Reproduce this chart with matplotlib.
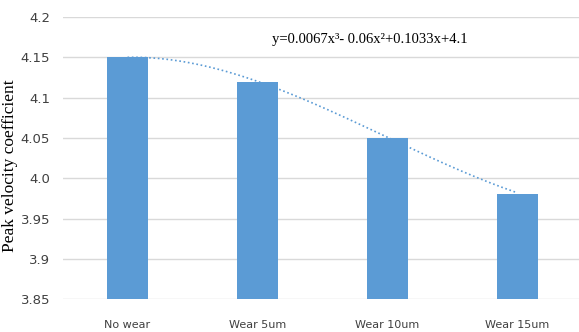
import matplotlib.pyplot as plt
import numpy as np

categories = ['No wear', 'Wear 5um', 'Wear 10um', 'Wear 15um']
peak_coef = [4.15, 4.12, 4.05, 3.98]
# cubic trend coefficients (highest power first)
trend = [0.0067, -0.06, 0.1033, 4.1]
yticks = [3.85, 3.9, 3.95, 4.0, 4.05, 4.1, 4.15, 4.2]
ytick_labels = ['3.85', '3.9', '3.95', '4.0', '4.05', '4.1', '4.15', '4.2']

fig = plt.figure(figsize=(5.79, 3.32), dpi=100)
ax = fig.add_axes([62.5 / 579, 32.7 / 332, 520 / 579, 282.3 / 332])

x = np.arange(1, len(categories) + 1)
ax.bar(x, peak_coef, width=0.315, color='#5b9bd5', zorder=3)

xs = np.linspace(1, len(categories), 200)
ax.plot(xs, np.polyval(trend, xs), linestyle=(0, (1, 1.6)), color='#5b9bd5',
        linewidth=1.2, zorder=4)

ax.set_xlim(0.5, len(categories) + 0.5)
ax.set_ylim(3.85, 4.2)
ax.set_yticks(yticks)
ax.set_yticklabels(ytick_labels)
ax.set_xticks(x)
ax.set_xticklabels(categories)
ax.grid(axis='y', color='#d9d9d9', linewidth=1, zorder=0)
for s in ax.spines.values():
    s.set_visible(False)
ax.tick_params(axis='both', length=0, colors='#404040', labelsize=9.5)
ax.tick_params(axis='x', pad=15, labelsize=8)
ax.tick_params(axis='y', pad=9)

ax.set_ylabel('Peak velocity coefficient', family='Liberation Serif', fontsize=12.5,
              color='black')
ax.yaxis.set_label_coords(-0.085, 0.475)

ax.text(272, 332 - 40, 'y=0.0067x³- 0.06x²+0.1033x+4.1', transform=None,
        family='Liberation Serif', fontsize=10.5, va='center', ha='left')

fig.savefig('out.png', dpi=100)
